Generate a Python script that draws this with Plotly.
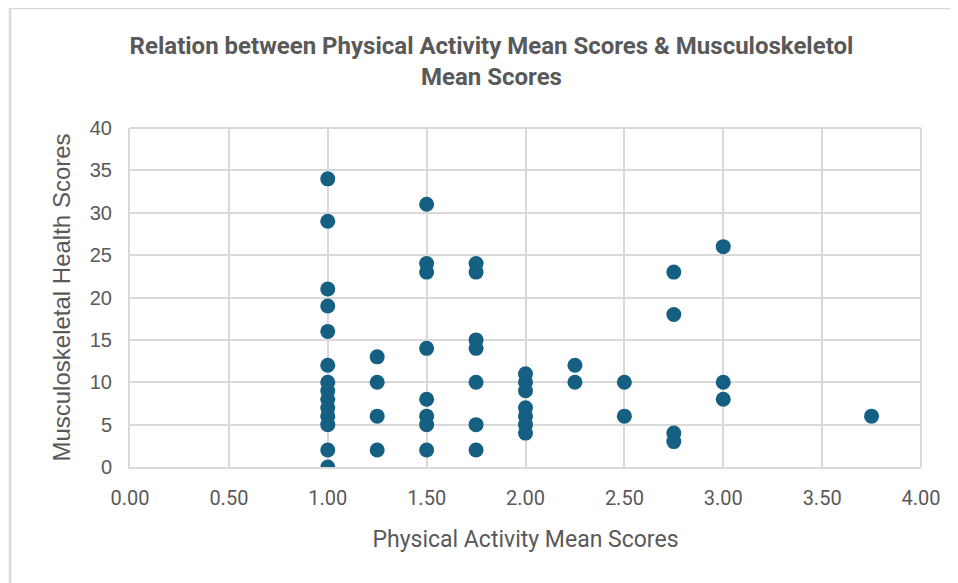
import plotly.graph_objects as go

# Data
physical_activity = (
    [1.00] * 14 + [1.25] * 4 + [1.50] * 8 + [1.75] * 7 + [2.00] * 7
    + [2.25] * 2 + [2.50] * 2 + [2.75] * 4 + [3.00] * 3 + [3.75] * 1
)
musculoskeletal = (
    [34, 29, 21, 19, 16, 12, 10, 9, 8, 7, 6, 5, 2, 0]
    + [13, 10, 6, 2]
    + [31, 24, 23, 14, 8, 6, 5, 2]
    + [24, 23, 15, 14, 10, 5, 2]
    + [11, 10, 9, 7, 6, 5, 4]
    + [12, 10]
    + [10, 6]
    + [23, 18, 4, 3]
    + [26, 10, 8]
    + [6]
)
x_ticks = [0, 0.5, 1, 1.5, 2, 2.5, 3, 3.5, 4]
y_ticks = [0, 5, 10, 15, 20, 25, 30, 35, 40]

title_text = ("Relation between Physical Activity Mean Scores & Musculoskeletol"
              "<br>Mean Scores")

fig = go.Figure()
fig.add_trace(go.Scatter(
    x=physical_activity, y=musculoskeletal, mode="markers",
    marker=dict(size=15, color="#156082", line=dict(width=0)),
    showlegend=False, hoverinfo="x+y",
))

grid = "#d9d9d9"
grey = "#595959"
fig.update_layout(
    width=950, height=575,
    margin=dict(l=122, r=37, t=120, b=116),
    paper_bgcolor="white", plot_bgcolor="white",
    title=dict(text=title_text, x=0.457, xref="paper", xanchor="center",
               y=0.92, yanchor="top",
               font=dict(family="Roboto", size=24, color=grey, weight="bold")),
    xaxis=dict(range=[0, 4], tickvals=x_ticks, tickformat=".2f",
               showgrid=True, gridcolor=grid, gridwidth=1.5,
               zeroline=False, showline=True, linecolor=grid, linewidth=2,
               ticks="outside", ticklen=12, tickcolor="white",
               tickfont=dict(family="Roboto", size=20, color=grey),
               title=dict(text="Physical Activity Mean Scores", standoff=22,
                          font=dict(family="Roboto", size=23, color=grey))),
    yaxis=dict(range=[0, 40], tickvals=y_ticks,
               showgrid=True, gridcolor=grid, gridwidth=1.5,
               zeroline=False, showline=True, linecolor=grid, linewidth=2,
               ticks="outside", ticklen=12, tickcolor="white",
               tickfont=dict(family="Liberation Sans, Arial", size=20, color=grey),
               title=dict(text="Musculoskeletal Health Scores", standoff=12,
                          font=dict(family="Liberation Sans, Arial", size=24, color=grey))),
)
# right and top border of the plot area
fig.add_shape(type="line", xref="paper", yref="paper", x0=1, x1=1, y0=0, y1=1,
              line=dict(color=grid, width=2))
fig.add_shape(type="line", xref="paper", yref="paper", x0=0, x1=1, y0=1, y1=1,
              line=dict(color=grid, width=2))
# outer chart frame (left and top edges)
fig.add_shape(type="line", xref="paper", yref="paper",
              x0=-0.1517, x1=-0.1517, y0=-0.342, y1=1.354,
              line=dict(color=grid, width=2.5))
fig.add_shape(type="line", xref="paper", yref="paper",
              x0=-0.1517, x1=1.047, y0=1.354, y1=1.354,
              line=dict(color=grid, width=2.5))

fig.write_html("out.html")
